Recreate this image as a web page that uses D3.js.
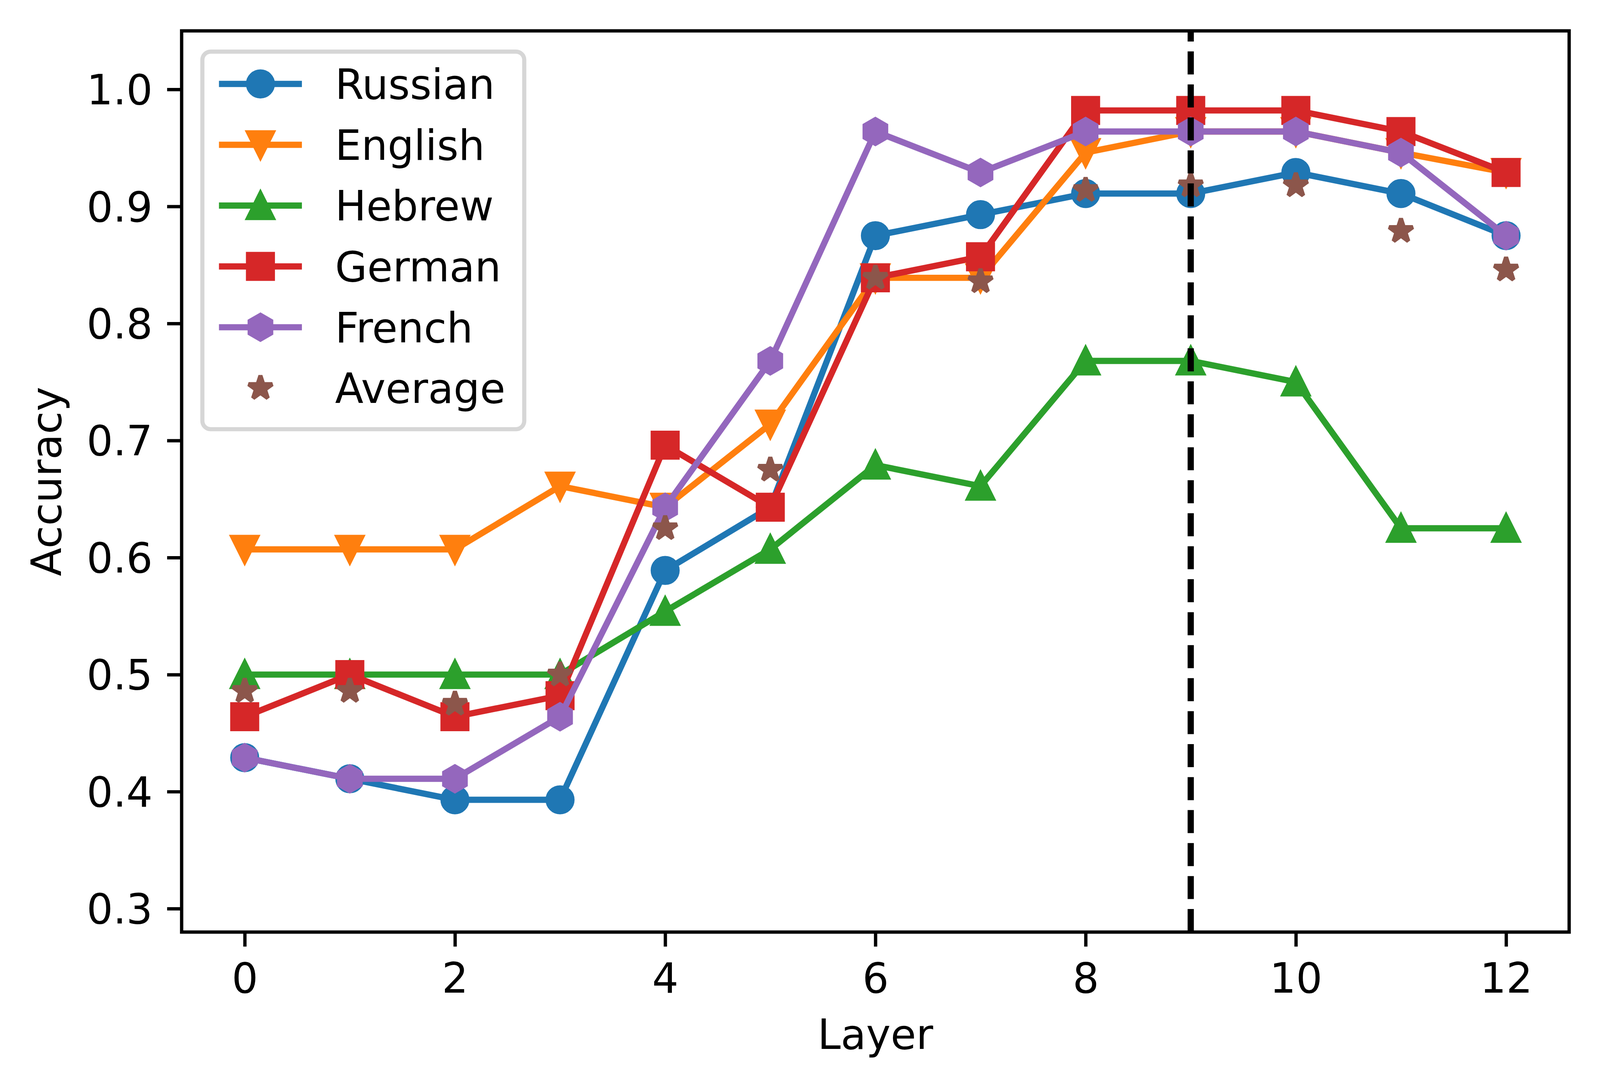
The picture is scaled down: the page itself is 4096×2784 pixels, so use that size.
<!DOCTYPE html>
<html>
<head>
<meta charset="utf-8">
<script src="https://cdn.jsdelivr.net/npm/d3@7"></script>
<style>
  html, body { margin: 0; padding: 0; background: #ffffff; }
  svg { display: block; }
  text { font-family: "DejaVu Sans", sans-serif; fill: #000; }
</style>
</head>
<body>
<script>
// ---------------- data ----------------
const layers = [0, 1, 2, 3, 4, 5, 6, 7, 8, 9, 10, 11, 12];
const russian = [0.429, 0.411, 0.393, 0.393, 0.589, 0.643, 0.875, 0.893, 0.911, 0.911, 0.929, 0.911, 0.875];
const english = [0.607, 0.607, 0.607, 0.661, 0.643, 0.714, 0.839, 0.839, 0.946, 0.964, 0.964, 0.946, 0.929];
const hebrew  = [0.500, 0.500, 0.500, 0.500, 0.554, 0.607, 0.679, 0.661, 0.768, 0.768, 0.750, 0.625, 0.625];
const german  = [0.464, 0.500, 0.464, 0.482, 0.696, 0.643, 0.839, 0.857, 0.982, 0.982, 0.982, 0.964, 0.929];
const french  = [0.429, 0.411, 0.411, 0.464, 0.643, 0.768, 0.964, 0.929, 0.964, 0.964, 0.964, 0.946, 0.875];
const average = [0.486, 0.486, 0.475, 0.500, 0.625, 0.675, 0.839, 0.836, 0.914, 0.918, 0.918, 0.879, 0.846];
const seriesNames = ["Russian", "English", "Hebrew", "German", "French", "Average"];
const xTicks = [0, 2, 4, 6, 8, 10, 12];
const yTicks = [0.3, 0.4, 0.5, 0.6, 0.7, 0.8, 0.9, 1.0];
const xDomain = [-0.6, 12.6];
const yDomain = [0.28, 1.05];
const vline = 9;
const xLabel = "Layer";
const yLabel = "Accuracy";

// ---------------- style ----------------
const W = 4096, H = 2784;
const PT = 1200 / 72 * 0.637;      // one matplotlib point in output px
const FS = 10 * PT;                 // font size
const LW = 1.5 * PT;                // line width
const MS = 6 * PT;                  // marker size
const MEW = 1.0 * PT;               // marker edge width
const margin = { left: 465, right: W - 4017, top: 79, bottom: H - 2385 };

const series = [
  { name: seriesNames[0], values: russian, color: "#1f77b4", marker: "circle",  line: true },
  { name: seriesNames[1], values: english, color: "#ff7f0e", marker: "triDown", line: true },
  { name: seriesNames[2], values: hebrew,  color: "#2ca02c", marker: "triUp",   line: true },
  { name: seriesNames[3], values: german,  color: "#d62728", marker: "square",  line: true },
  { name: seriesNames[4], values: french,  color: "#9467bd", marker: "hexagon", line: true },
  { name: seriesNames[5], values: average, color: "#8c564b", marker: "star",    line: false }
];

// custom symbol types: size = radius (half marker size)
const symbolTypes = {
  circle: { draw(c, r) { c.moveTo(r, 0); c.arc(0, 0, r, 0, 2 * Math.PI); c.closePath(); } },
  triDown: { draw(c, r) { c.moveTo(0, r); c.lineTo(-r, -r); c.lineTo(r, -r); c.closePath(); } },
  triUp: { draw(c, r) { c.moveTo(0, -r); c.lineTo(-r, r); c.lineTo(r, r); c.closePath(); } },
  square: { draw(c, r) { c.moveTo(-r, -r); c.lineTo(r, -r); c.lineTo(r, r); c.lineTo(-r, r); c.closePath(); } },
  hexagon: { draw(c, r) {
    for (let i = 0; i < 6; i++) {
      const a = Math.PI / 2 + i * Math.PI / 3;
      const px = r * Math.cos(a), py = -r * Math.sin(a);
      if (i === 0) c.moveTo(px, py); else c.lineTo(px, py);
    }
    c.closePath();
  } },
  star: { draw(c, r) {
    const inner = r * 0.381966;
    for (let i = 0; i < 10; i++) {
      const a = Math.PI / 2 + i * Math.PI / 5;
      const rr = i % 2 === 0 ? r : inner;
      const px = rr * Math.cos(a), py = -rr * Math.sin(a);
      if (i === 0) c.moveTo(px, py); else c.lineTo(px, py);
    }
    c.closePath();
  } }
};
const joinFor = { circle: "round", triDown: "miter", triUp: "miter", square: "miter", hexagon: "miter", star: "bevel" };

// ---------------- svg ----------------
const svg = d3.select("body").append("svg").attr("width", W).attr("height", H);
svg.append("rect").attr("width", W).attr("height", H).attr("fill", "#ffffff");

const x = d3.scaleLinear().domain(xDomain).range([margin.left, W - margin.right]);
const y = d3.scaleLinear().domain(yDomain).range([H - margin.bottom, margin.top]);

const plotL = x.range()[0], plotR = x.range()[1];
const plotT = y.range()[1], plotB = y.range()[0];

const clip = svg.append("defs").append("clipPath").attr("id", "plotclip");
clip.append("rect").attr("x", plotL).attr("y", plotT).attr("width", plotR - plotL).attr("height", plotB - plotT);

const lineGen = d3.line().x((d, i) => x(layers[i])).y(d => y(d));

// series
const gData = svg.append("g");
series.forEach(s => {
  const g = gData.append("g");
  if (s.line) {
    g.append("path")
      .attr("d", lineGen(s.values))
      .attr("fill", "none")
      .attr("stroke", s.color)
      .attr("stroke-width", LW)
      .attr("stroke-linejoin", "round")
      .attr("stroke-linecap", "square");
  }
  const sym = d3.symbol().type(symbolTypes[s.marker]).size(MS / 2);
  g.selectAll("path.m").data(s.values).join("path")
    .attr("class", "m")
    .attr("transform", (d, i) => `translate(${x(layers[i])},${y(d)})`)
    .attr("d", sym())
    .attr("fill", s.color)
    .attr("stroke", s.color)
    .attr("stroke-width", MEW)
    .attr("stroke-linejoin", joinFor[s.marker]);
});

// vertical dashed line (drawn from bottom upward)
svg.append("line")
  .attr("x1", x(vline)).attr("x2", x(vline))
  .attr("y1", plotB).attr("y2", plotT)
  .attr("stroke", "#000")
  .attr("stroke-width", LW)
  .attr("stroke-dasharray", `${3.7 * LW} ${1.6 * LW}`)
  .attr("stroke-linecap", "butt");

// axes
const tickLen = 3.5 * PT, tickW = 0.8 * PT, pad = 3.5 * PT;
const xAxis = d3.axisBottom(x).tickValues(xTicks).tickSize(tickLen).tickPadding(pad).tickFormat(d3.format("d"));
const yAxis = d3.axisLeft(y).tickValues(yTicks).tickSize(tickLen).tickPadding(pad).tickFormat(d3.format(".1f"));

const gx = svg.append("g").attr("transform", `translate(0,${plotB})`).call(xAxis);
const gy = svg.append("g").attr("transform", `translate(${plotL},0)`).call(yAxis);
[gx, gy].forEach(g => {
  g.select(".domain").remove();
  g.selectAll(".tick line").attr("stroke", "#000").attr("stroke-width", tickW);
  g.selectAll(".tick text")
    .attr("font-family", "DejaVu Sans")
    .attr("font-size", FS)
    .attr("fill", "#000");
});
gx.selectAll(".tick text").attr("dy", null).attr("y", 2540 - plotB).attr("text-anchor", "middle");
gy.selectAll(".tick text").attr("dy", null).attr("y", 0.356 * FS).attr("x", -(tickLen + pad)).attr("text-anchor", "end");

// spines
svg.append("rect")
  .attr("x", plotL).attr("y", plotT)
  .attr("width", plotR - plotL).attr("height", plotB - plotT)
  .attr("fill", "none").attr("stroke", "#000").attr("stroke-width", 0.8 * PT)
  .attr("stroke-linejoin", "miter");

// axis labels
svg.append("text")
  .attr("x", (plotL + plotR) / 2).attr("y", 2684)
  .attr("text-anchor", "middle").attr("font-size", FS)
  .text(xLabel);
svg.append("text")
  .attr("transform", `translate(155.5,${(plotT + plotB) / 2}) rotate(-90)`)
  .attr("text-anchor", "middle").attr("font-size", FS)
  .text(yLabel);

// legend
const legX = plotL + 0.5 * FS, legY = plotT + 0.5 * FS;
const legW = 824, legH = 9.1 * FS;
const leg = svg.append("g");
leg.append("rect")
  .attr("x", legX).attr("y", legY).attr("width", legW).attr("height", legH)
  .attr("rx", 0.2 * FS).attr("ry", 0.2 * FS)
  .attr("fill", "#ffffff").attr("fill-opacity", 0.8)
  .attr("stroke", "#cccccc").attr("stroke-opacity", 0.8)
  .attr("stroke-width", 1.0 * PT);
const hx0 = legX + 0.4 * FS, hx1 = hx0 + 2.0 * FS, hxm = (hx0 + hx1) / 2;
const tx = hx1 + 0.8 * FS;
const rowStep = 1.466 * FS;
const base0 = 253;
series.forEach((s, i) => {
  const by = base0 + i * rowStep;
  const cy = by - 0.36 * FS;
  if (s.line) {
    leg.append("line").attr("x1", hx0).attr("x2", hx1).attr("y1", cy).attr("y2", cy)
      .attr("stroke", s.color).attr("stroke-width", LW).attr("stroke-linecap", "butt");
  }
  leg.append("path")
    .attr("transform", `translate(${hxm},${cy})`)
    .attr("d", d3.symbol().type(symbolTypes[s.marker]).size(MS / 2)())
    .attr("fill", s.color).attr("stroke", s.color).attr("stroke-width", MEW)
    .attr("stroke-linejoin", joinFor[s.marker]);
  leg.append("text").attr("x", tx).attr("y", by).attr("font-size", FS).text(s.name);
});
</script>
</body>
</html>
